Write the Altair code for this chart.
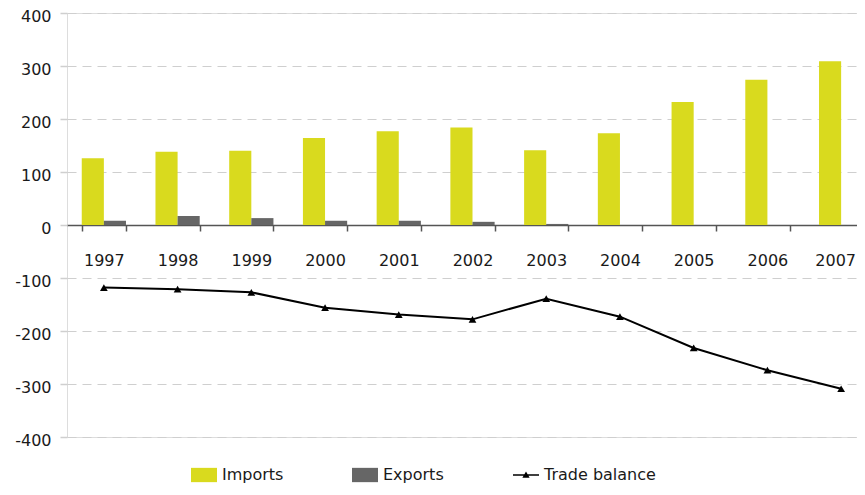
import altair as alt
import pandas as pd

years = ["1997", "1998", "1999", "2000", "2001", "2002", "2003", "2004", "2005", "2006", "2007"]
imports = [126, 138, 140, 164, 177, 184, 141, 173, 232, 274, 309]
exports = [8, 17, 13, 8, 8, 6, 2, 0, 0, 0, 0]
balance = [-118, -121, -127, -156, -169, -178, -139, -173, -232, -274, -309]
y_ticks = [-400, -300, -200, -100, 0, 100, 200, 300, 400]
series_names = ["Imports", "Exports", "Trade balance"]
series_colors = ["#d9da1e", "#666666", "#000000"]

bars_df = pd.DataFrame(
    [{"year": y, "series": "Imports", "value": v} for y, v in zip(years, imports)]
    + [{"year": y, "series": "Exports", "value": v} for y, v in zip(years, exports)]
)
line_df = pd.DataFrame({"year": years, "value": balance})

FONT = "DejaVu Sans"

x_enc = alt.X(
    "year:N",
    title=None,
    sort=years,
    scale=alt.Scale(paddingInner=0.4, paddingOuter=0.2, range=[0, 811]),
    axis=alt.Axis(
        orient="bottom",
        offset=-212,
        domainColor="#555555",
        domainWidth=1.5,
        tickBand="extent",
        tickColor="#555555",
        tickSize=6,
        tickWidth=1.5,
        labelAngle=0,
        labelFontSize=16,
        labelFont=FONT,
        labelColor="#1a1a1a",
        labelPadding=21,
        labelOffset=alt.ExprRef("datum.value === '2007' ? -6 : 0"),
    ),
)

y_scale = alt.Scale(domain=[-400, 400], nice=False)
y_axis = alt.Axis(
    values=y_ticks,
    labelExpr="toString(datum.value)",
    grid=True,
    gridDash=[9, 6],
    gridColor="#cfcfcf",
    gridWidth=1.2,
    domain=False,
    tickColor="#cfcfcf",
    tickSize=7,
    tickWidth=1.5,
    labelFontSize=16,
    labelFont=FONT,
    labelColor="#1a1a1a",
    labelPadding=9,
    labelOffset=3,
)

rect_path = "M-1,-0.55L1,-0.55L1,0.55L-1,0.55Z"
line_path = "M-1,-0.06L1,-0.06L1,0.06L-1,0.06Z M-0.28,0.22L0,-0.26L0.28,0.22Z"

legend = alt.Legend(
    title=None,
    orient="none",
    legendX=124,
    legendY=449,
    direction="horizontal",
    gridAlign="all",
    columnPadding=18,
    symbolSize=676,
    symbolStrokeWidth=0,
    symbolType=alt.ExprRef(
        "datum.value === 'Trade balance' ? '" + line_path + "' : '" + rect_path + "'"
    ),
    labelFontSize=16,
    labelFont=FONT,
    labelColor="#1a1a1a",
    labelOffset=5,
    padding=0,
)

bars = alt.Chart(bars_df).mark_bar().encode(
    x=x_enc,
    xOffset=alt.XOffset("series:N", sort=["Imports", "Exports"]),
    y=alt.Y("value:Q", title=None, scale=y_scale, axis=y_axis),
    color=alt.Color(
        "series:N",
        scale=alt.Scale(domain=series_names, range=series_colors),
        legend=legend,
    ),
)

line = alt.Chart(line_df).mark_line(color="#000000", strokeWidth=2).encode(
    x=alt.X("year:N", sort=years),
    y=alt.Y("value:Q"),
)

points = alt.Chart(line_df).mark_point(
    shape="triangle-up", filled=True, color="#000000", size=60, opacity=1
).encode(
    x=alt.X("year:N", sort=years),
    y=alt.Y("value:Q"),
)

chart = (
    alt.layer(bars, line, points)
    .properties(
        width=790,
        height=424,
        autosize=alt.AutoSizeParams(type="none"),
        padding={"left": 59, "top": 5, "right": 0, "bottom": 50},
    )
    .configure_view(stroke="#c8c8c8", strokeWidth=1.5)
    .configure(font=FONT)
)

chart.save("out.html", embed_options={"renderer": "svg", "actions": False})
